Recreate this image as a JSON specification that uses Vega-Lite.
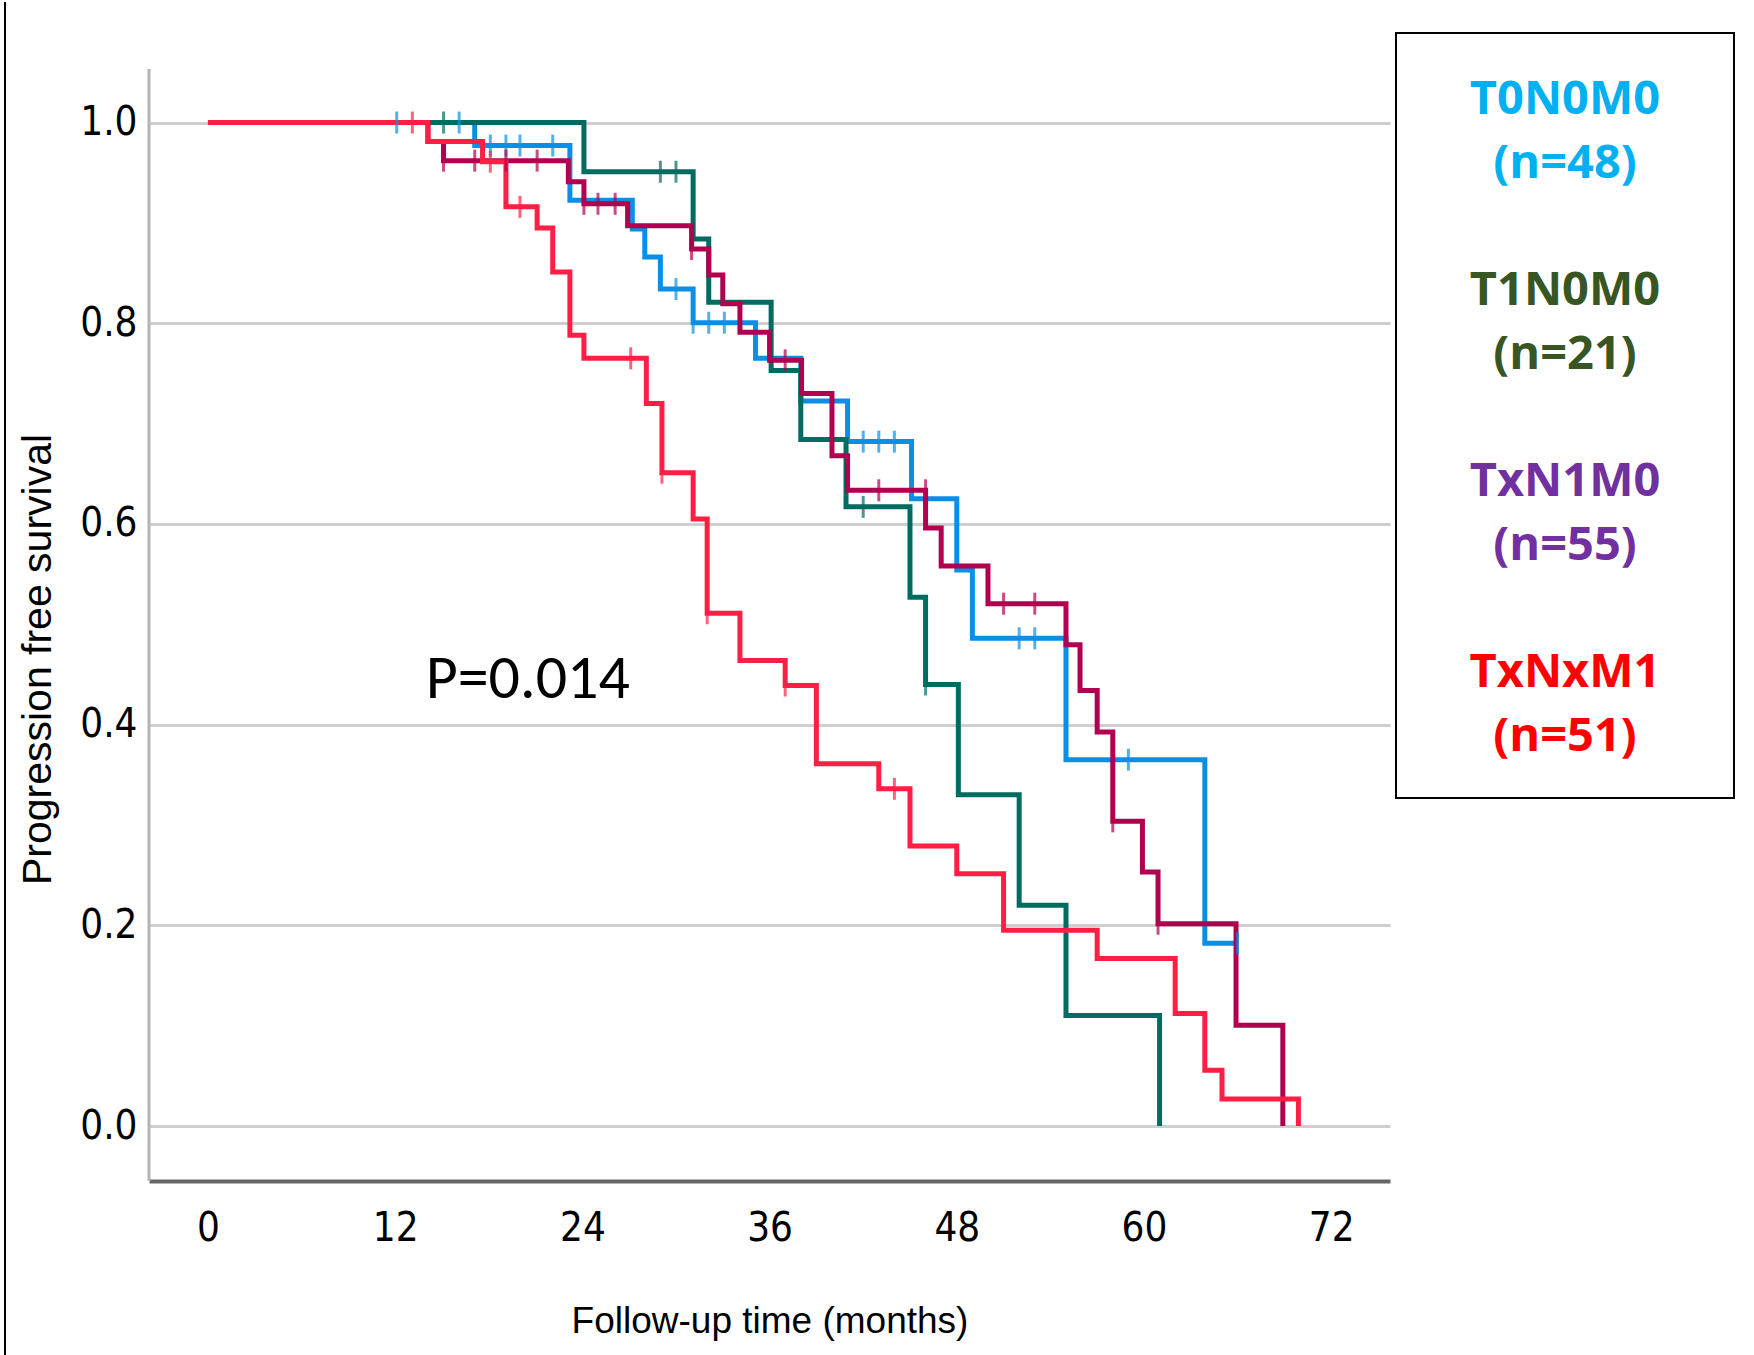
{
  "$schema": "https://vega.github.io/schema/vega-lite/v6.json",
  "padding": {"left": 4, "top": 0, "right": 10, "bottom": 0},
  "background": "white",
  "config": {"view": {"stroke": null}, "concat": {"spacing": 5}},
  "datasets": {
    "curves": [
      {"series": "T0N0M0", "month": 0, "surv": 1.0},
      {"series": "T0N0M0", "month": 17.1, "surv": 0.977},
      {"series": "T0N0M0", "month": 23.2, "surv": 0.9225},
      {"series": "T0N0M0", "month": 27.2, "surv": 0.894},
      {"series": "T0N0M0", "month": 28.0, "surv": 0.866},
      {"series": "T0N0M0", "month": 29.0, "surv": 0.834},
      {"series": "T0N0M0", "month": 31.1, "surv": 0.8005},
      {"series": "T0N0M0", "month": 35.1, "surv": 0.765},
      {"series": "T0N0M0", "month": 38.0, "surv": 0.7225},
      {"series": "T0N0M0", "month": 41.0, "surv": 0.682},
      {"series": "T0N0M0", "month": 45.1, "surv": 0.625},
      {"series": "T0N0M0", "month": 48.0, "surv": 0.554},
      {"series": "T0N0M0", "month": 49.0, "surv": 0.486},
      {"series": "T0N0M0", "month": 55.0, "surv": 0.365},
      {"series": "T0N0M0", "month": 63.9, "surv": 0.182},
      {"series": "T0N0M0", "month": 66.0, "surv": 0.182},
      {"series": "T1N0M0", "month": 0, "surv": 1.0},
      {"series": "T1N0M0", "month": 24.1, "surv": 0.951},
      {"series": "T1N0M0", "month": 31.1, "surv": 0.884},
      {"series": "T1N0M0", "month": 32.1, "surv": 0.821},
      {"series": "T1N0M0", "month": 36.1, "surv": 0.753},
      {"series": "T1N0M0", "month": 38.0, "surv": 0.684},
      {"series": "T1N0M0", "month": 40.9, "surv": 0.617},
      {"series": "T1N0M0", "month": 45.0, "surv": 0.527},
      {"series": "T1N0M0", "month": 46.0, "surv": 0.44},
      {"series": "T1N0M0", "month": 48.1, "surv": 0.33},
      {"series": "T1N0M0", "month": 52.0, "surv": 0.22},
      {"series": "T1N0M0", "month": 55.0, "surv": 0.11},
      {"series": "T1N0M0", "month": 61.0, "surv": 0.0},
      {"series": "TxN1M0", "month": 0, "surv": 1.0},
      {"series": "TxN1M0", "month": 14.1, "surv": 0.981},
      {"series": "TxN1M0", "month": 15.1, "surv": 0.962},
      {"series": "TxN1M0", "month": 23.1, "surv": 0.941},
      {"series": "TxN1M0", "month": 24.1, "surv": 0.919},
      {"series": "TxN1M0", "month": 26.9, "surv": 0.897},
      {"series": "TxN1M0", "month": 31.0, "surv": 0.874},
      {"series": "TxN1M0", "month": 32.1, "surv": 0.848},
      {"series": "TxN1M0", "month": 33.0, "surv": 0.8195},
      {"series": "TxN1M0", "month": 34.1, "surv": 0.791},
      {"series": "TxN1M0", "month": 36.0, "surv": 0.763},
      {"series": "TxN1M0", "month": 38.05, "surv": 0.73},
      {"series": "TxN1M0", "month": 40.0, "surv": 0.668},
      {"series": "TxN1M0", "month": 41.0, "surv": 0.6335},
      {"series": "TxN1M0", "month": 46.0, "surv": 0.596},
      {"series": "TxN1M0", "month": 47.0, "surv": 0.558},
      {"series": "TxN1M0", "month": 50.0, "surv": 0.5205},
      {"series": "TxN1M0", "month": 55.0, "surv": 0.4797},
      {"series": "TxN1M0", "month": 55.9, "surv": 0.434},
      {"series": "TxN1M0", "month": 57.0, "surv": 0.3926},
      {"series": "TxN1M0", "month": 58.0, "surv": 0.3036},
      {"series": "TxN1M0", "month": 59.9, "surv": 0.253},
      {"series": "TxN1M0", "month": 60.9, "surv": 0.2016},
      {"series": "TxN1M0", "month": 65.9, "surv": 0.1003},
      {"series": "TxN1M0", "month": 68.9, "surv": 0.0},
      {"series": "TxNxM1", "month": 0, "surv": 1.0},
      {"series": "TxNxM1", "month": 14.1, "surv": 0.981},
      {"series": "TxNxM1", "month": 17.6, "surv": 0.961},
      {"series": "TxNxM1", "month": 19.1, "surv": 0.916},
      {"series": "TxNxM1", "month": 21.1, "surv": 0.895},
      {"series": "TxNxM1", "month": 22.1, "surv": 0.851},
      {"series": "TxNxM1", "month": 23.2, "surv": 0.788},
      {"series": "TxNxM1", "month": 24.1, "surv": 0.765},
      {"series": "TxNxM1", "month": 28.1, "surv": 0.72},
      {"series": "TxNxM1", "month": 29.1, "surv": 0.651},
      {"series": "TxNxM1", "month": 31.1, "surv": 0.605},
      {"series": "TxNxM1", "month": 32.0, "surv": 0.511},
      {"series": "TxNxM1", "month": 34.1, "surv": 0.464},
      {"series": "TxNxM1", "month": 37.0, "surv": 0.439},
      {"series": "TxNxM1", "month": 39.0, "surv": 0.361},
      {"series": "TxNxM1", "month": 43.0, "surv": 0.336},
      {"series": "TxNxM1", "month": 45.0, "surv": 0.279},
      {"series": "TxNxM1", "month": 48.0, "surv": 0.2515},
      {"series": "TxNxM1", "month": 51.0, "surv": 0.195},
      {"series": "TxNxM1", "month": 57.0, "surv": 0.167},
      {"series": "TxNxM1", "month": 62.0, "surv": 0.112},
      {"series": "TxNxM1", "month": 63.9, "surv": 0.0555},
      {"series": "TxNxM1", "month": 65.0, "surv": 0.027},
      {"series": "TxNxM1", "month": 69.9, "surv": 0.0}
    ],
    "censors": [
      {"series": "T0N0M0", "month": 12.1, "surv": 1.0},
      {"series": "T0N0M0", "month": 16.1, "surv": 1.0},
      {"series": "T0N0M0", "month": 18.1, "surv": 0.977},
      {"series": "T0N0M0", "month": 19.1, "surv": 0.977},
      {"series": "T0N0M0", "month": 20.0, "surv": 0.977},
      {"series": "T0N0M0", "month": 22.1, "surv": 0.977},
      {"series": "T0N0M0", "month": 30.0, "surv": 0.834},
      {"series": "T0N0M0", "month": 31.1, "surv": 0.8005},
      {"series": "T0N0M0", "month": 32.1, "surv": 0.8005},
      {"series": "T0N0M0", "month": 33.1, "surv": 0.8005},
      {"series": "T0N0M0", "month": 42.0, "surv": 0.682},
      {"series": "T0N0M0", "month": 43.0, "surv": 0.682},
      {"series": "T0N0M0", "month": 44.0, "surv": 0.682},
      {"series": "T0N0M0", "month": 52.0, "surv": 0.486},
      {"series": "T0N0M0", "month": 53.0, "surv": 0.486},
      {"series": "T0N0M0", "month": 59.0, "surv": 0.365},
      {"series": "T0N0M0", "month": 66.0, "surv": 0.182},
      {"series": "T1N0M0", "month": 15.1, "surv": 1.0},
      {"series": "T1N0M0", "month": 29.0, "surv": 0.951},
      {"series": "T1N0M0", "month": 30.0, "surv": 0.951},
      {"series": "T1N0M0", "month": 42.0, "surv": 0.617},
      {"series": "T1N0M0", "month": 46.0, "surv": 0.44},
      {"series": "TxN1M0", "month": 15.1, "surv": 0.962},
      {"series": "TxN1M0", "month": 17.1, "surv": 0.962},
      {"series": "TxN1M0", "month": 19.1, "surv": 0.962},
      {"series": "TxN1M0", "month": 21.1, "surv": 0.962},
      {"series": "TxN1M0", "month": 24.1, "surv": 0.919},
      {"series": "TxN1M0", "month": 25.0, "surv": 0.919},
      {"series": "TxN1M0", "month": 26.1, "surv": 0.919},
      {"series": "TxN1M0", "month": 31.0, "surv": 0.874},
      {"series": "TxN1M0", "month": 37.0, "surv": 0.763},
      {"series": "TxN1M0", "month": 43.0, "surv": 0.6335},
      {"series": "TxN1M0", "month": 46.0, "surv": 0.6335},
      {"series": "TxN1M0", "month": 51.0, "surv": 0.5205},
      {"series": "TxN1M0", "month": 53.0, "surv": 0.5205},
      {"series": "TxN1M0", "month": 58.0, "surv": 0.3036},
      {"series": "TxN1M0", "month": 60.9, "surv": 0.2016},
      {"series": "TxNxM1", "month": 13.1, "surv": 1.0},
      {"series": "TxNxM1", "month": 18.1, "surv": 0.961},
      {"series": "TxNxM1", "month": 20.0, "surv": 0.916},
      {"series": "TxNxM1", "month": 27.1, "surv": 0.765},
      {"series": "TxNxM1", "month": 29.1, "surv": 0.651},
      {"series": "TxNxM1", "month": 32.0, "surv": 0.511},
      {"series": "TxNxM1", "month": 37.0, "surv": 0.439},
      {"series": "TxNxM1", "month": 44.0, "surv": 0.336}
    ],
    "legendRows": [
      {"group": "T0N0M0", "label": "T0N0M0\n(n=48)"},
      {"group": "T1N0M0", "label": "T1N0M0\n(n=21)"},
      {"group": "TxN1M0", "label": "TxN1M0\n(n=55)"},
      {"group": "TxNxM1", "label": "TxNxM1\n(n=51)"}
    ]
  },
  "hconcat": [
    {
      "width": 1241,
      "height": 1148,
      "layer": [
        {
          "data": {"values": [{"part": "frame"}]},
          "mark": {"type": "rule", "color": "black", "strokeWidth": 2},
          "encoding": {
            "x": {"datum": -13.01},
            "y": {"datum": 1.1201},
            "y2": {"datum": -0.2302}
          }
        },
        {
          "data": {"values": [{"part": "y-axis line"}]},
          "mark": {"type": "rule", "color": "#b4b4b4", "strokeWidth": 3},
          "encoding": {
            "x": {"datum": -3.78},
            "y": {"datum": 1.0533},
            "y2": {"datum": -0.0548}
          }
        },
        {
          "data": {"name": "curves"},
          "mark": {"type": "line", "interpolate": "step-after", "strokeWidth": 5},
          "encoding": {
            "x": {
              "field": "month", "type": "quantitative",
              "scale": {"domain": [-3.78, 75.77], "nice": false, "zero": false},
              "axis": {
                "values": [0, 12, 24, 36, 48, 60, 72],
                "grid": false, "ticks": false, "tickSize": 0,
                "domainColor": "#666666", "domainWidth": 4,
                "labelFont": "Liberation Sans Narrow, DejaVu Sans Condensed, Liberation Sans",
                "labelFontSize": 40, "labelColor": "black", "labelPadding": 27,
                "labelFlush": false, "labelOverlap": false,
                "title": "Follow-up time (months)",
                "titleFont": "Liberation Sans", "titleFontSize": 37, "titleFontWeight": "normal",
                "titleColor": "black", "titlePadding": 55
              }
            },
            "y": {
              "field": "surv", "type": "quantitative",
              "scale": {"domain": [-0.0548, 1.0892], "nice": false, "zero": false},
              "axis": {
                "values": [0, 0.2, 0.4, 0.6, 0.8, 1.0], "format": ".1f",
                "grid": true, "gridColor": "#cfcfcf", "gridWidth": 3,
                "ticks": false, "tickSize": 0, "domain": false,
                "labelFont": "Liberation Sans Narrow, DejaVu Sans Condensed, Liberation Sans",
                "labelFontSize": 40, "labelColor": "black", "labelPadding": 12,
                "labelOverlap": false,
                "title": "Progression free survival",
                "titleFont": "Liberation Sans", "titleFontSize": 41, "titleFontWeight": "normal",
                "titleColor": "black", "titlePadding": 20, "titleY": 626
              }
            },
            "color": {
              "field": "series", "type": "nominal",
              "scale": {"domain": ["T0N0M0", "T1N0M0", "TxN1M0", "TxNxM1"], "range": ["#0a8ee6", "#006b60", "#b0004f", "#ff1f44"]},
              "legend": null
            }
          }
        },
        {
          "data": {"name": "censors"},
          "mark": {"type": "tick", "orient": "vertical", "size": 22, "thickness": 3},
          "encoding": {
            "x": {"field": "month", "type": "quantitative"},
            "y": {"field": "surv", "type": "quantitative"},
            "color": {"field": "series", "type": "nominal", "legend": null}
          }
        },
        {
          "data": {"values": [{"note": "P=0.014"}]},
          "mark": {"type": "text", "font": "Carlito, Lato", "fontSize": 62, "color": "black", "align": "center", "baseline": "middle"},
          "encoding": {
            "x": {"datum": 20.5},
            "y": {"datum": 0.445},
            "text": {"field": "note"}
          }
        }
      ]
    },
    {
      "width": 338,
      "height": 765,
      "view": {"stroke": "black", "strokeWidth": 2},
      "data": {"name": "legendRows"},
      "mark": {"type": "text", "font": "Open Sans", "fontWeight": "bold", "fontSize": 47, "lineHeight": 64, "lineBreak": "\n", "align": "center", "baseline": "middle", "dy": -29},
      "encoding": {
        "x": {"datum": "k", "type": "nominal", "axis": null},
        "y": {"field": "group", "type": "nominal", "sort": ["T0N0M0", "T1N0M0", "TxN1M0", "TxNxM1"], "axis": null},
        "text": {"field": "label"},
        "color": {
          "field": "group", "type": "nominal",
          "scale": {"domain": ["T0N0M0", "T1N0M0", "TxN1M0", "TxNxM1"], "range": ["#00b0f0", "#375623", "#7030a0", "#ff0000"]},
          "legend": null
        }
      }
    }
  ],
  "resolve": {"scale": {"color": "independent"}}
}
